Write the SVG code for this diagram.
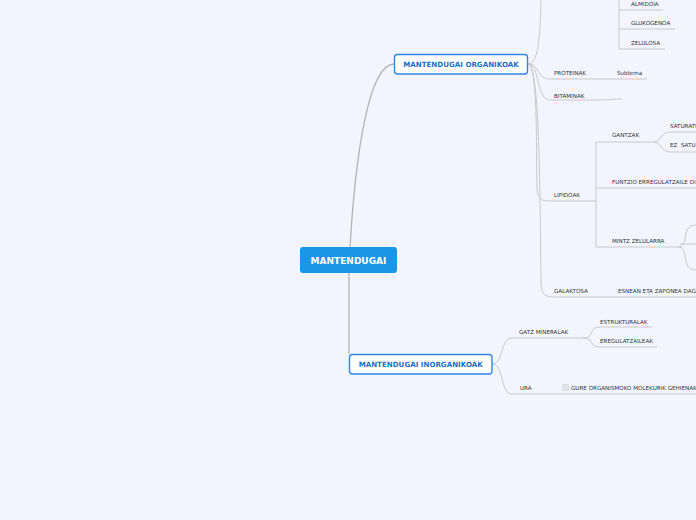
<svg xmlns="http://www.w3.org/2000/svg" width="696" height="520" viewBox="0 0 696 520">
<style>
.bg{fill:#f2f5fd}
.c{fill:none;stroke:#c9c9cc;stroke-width:1}
.cm{fill:none;stroke:#b4b4b8;stroke-width:1.3}
.t{font-family:"DejaVu Sans",Verdana,sans-serif;font-size:5.6px;fill:#333}
.main rect{fill:#fff;stroke:#2f86df;stroke-width:1.4}
.main text{font-family:"DejaVu Sans",Verdana,sans-serif;font-weight:bold;font-size:7.1px;fill:#1d6fc4;text-anchor:middle}
</style>
<rect class="bg" x="0" y="0" width="696" height="520"/>
<g id="connectors">
<path class="cm" d="M350,248 C355,160 368,64 394,64"/>
<path class="cm" d="M349,273 L349,354"/>
<path class="c" d="M528,64 C538,64 540,40 541,0"/>
<path class="c" d="M619,0 L619,49"/>
<path class="c" d="M619,10 L663,10"/>
<path class="c" d="M619,29 L675,29"/>
<path class="c" d="M619,49 L665,49"/>
<path class="c" d="M528,64 C540,64 536,79 550,79 L647,79"/>
<path class="c" d="M528,64 C540,64 536,100 550,100 L600,100 C610,100 612,99 622,99"/>
<path class="c" d="M528,64 C538,64 536,150 537,185 C537,198 540,201 550,201 L596,201"/>
<path class="c" d="M528,64 C540,64 540,200 541,280 C541,294 544,297 555,297 L696,297"/>
<path class="c" d="M596,142 L596,247"/>
<path class="c" d="M596,142 L654,142 C662,142 660,132 670,132 L696,132"/>
<path class="c" d="M654,142 C662,142 660,152 670,152 L696,152"/>
<path class="c" d="M596,188 L696,188"/>
<path class="c" d="M596,247 L678,247 C690,247 680,225 696,225"/>
<path class="c" d="M678,247 C690,247 680,270 696,270"/>
<path class="c" d="M680,244 L696,244"/>
<path class="c" d="M492,364 C504,364 500,338 512,338 L583,338 C595,338 588,327 600,327 L652,327"/>
<path class="c" d="M583,338 C595,338 588,347 600,347 L657,347"/>
<path class="c" d="M492,364 C504,364 500,394 512,394 L696,394"/>
</g>
<g id="root">
<rect x="300" y="247" width="97" height="26" rx="3" fill="#1b95e6"/>
<text x="348.5" y="263.5" font-family="DejaVu Sans,Verdana,sans-serif" font-weight="bold" font-size="9px" fill="#fff" text-anchor="middle">MANTENDUGAI</text>
</g>
<g id="organikoak" class="main">
<rect x="394.5" y="54.5" width="133" height="19.5" rx="3"/>
<text x="461" y="66.8">MANTENDUGAI ORGANIKOAK</text>
</g>
<g id="inorganikoak" class="main">
<rect x="349.5" y="354.5" width="142.5" height="19.5" rx="3"/>
<text x="420.7" y="366.8">MANTENDUGAI INORGANIKOAK</text>
</g>
<g id="almidoia"><text class="t" x="631" y="6">ALMIDOIA</text></g>
<g id="glukogenoa"><text class="t" x="631" y="25">GLUKOGENOA</text></g>
<g id="zelulosa"><text class="t" x="631" y="45">ZELULOSA</text></g>
<g id="proteinak"><text class="t" x="554" y="75">PROTEINAK</text></g>
<g id="subtema"><text class="t" x="617" y="75">Subtema</text></g>
<g id="bitaminak"><text class="t" x="554" y="98">BITAMINAK</text></g>
<g id="lipidoak"><text class="t" x="554" y="197">LIPIDOAK</text></g>
<g id="gantzak"><text class="t" x="612" y="137">GANTZAK</text></g>
<g id="saturatu"><text class="t" x="670" y="128">SATURATU</text></g>
<g id="ez-saturatu"><text class="t" x="670" y="147" xml:space="preserve">EZ  SATU</text></g>
<g id="funtzio"><text class="t" x="612" y="184">FUNTZIO ERREGULATZAILE DI</text></g>
<g id="mintz"><text class="t" x="612" y="243">MINTZ ZELULARRA</text></g>
<g id="galaktosa"><text class="t" x="554" y="293">GALAKTOSA</text></g>
<g id="esnean"><text class="t" x="618" y="293">ESNEAN ETA ZAPONEA DAG</text></g>
<g id="gatz"><text class="t" x="519" y="334">GATZ MINERALAK</text></g>
<g id="estrukturalak"><text class="t" x="600" y="324">ESTRUKTURALAK</text></g>
<g id="eregulatzaileak"><text class="t" x="600" y="343">EREGULATZAILEAK</text></g>
<g id="ura"><text class="t" x="520" y="390">URA</text></g>
<g id="gure">
<rect x="562.5" y="384.5" width="6" height="6" rx="0.8" fill="#e4e4e8" stroke="#d0d0d4" stroke-width="0.6"/>
<text class="t" x="571" y="390">GURE ORGANISMOKO MOLEKURIK GEHIENAK</text>
</g>
</svg>
